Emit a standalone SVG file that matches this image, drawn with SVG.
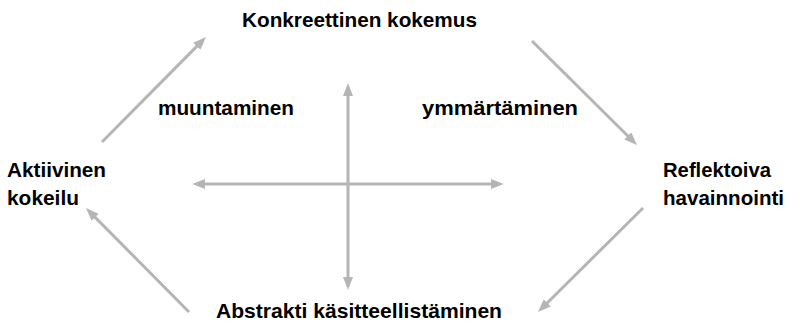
<svg xmlns="http://www.w3.org/2000/svg" width="790" height="328" viewBox="0 0 790 328">
  <style>
    .lbl { font-family: "Liberation Sans", Arial, sans-serif; font-weight: bold; font-size: 21px; fill: #000; }
    .arr { stroke: #b5b5b5; stroke-width: 3; fill: none; marker-end: url(#ah); }
    .dbl { marker-start: url(#ah); }
  </style>
  <defs>
    <marker id="ah" markerUnits="userSpaceOnUse" markerWidth="13" markerHeight="10" refX="3" refY="5" orient="auto-start-reverse">
      <path d="M0,0 L13,5 L0,10 z" fill="#b5b5b5"/>
    </marker>
  </defs>
  <g id="connectors">
    <line class="arr" x1="102" y1="142" x2="198.96" y2="44.1"/>
    <line class="arr" x1="532" y1="41" x2="629.9" y2="138"/>
    <line class="arr" x1="643" y1="208" x2="545.1" y2="305"/>
    <line class="arr" x1="189" y1="312" x2="93" y2="215.1"/>
    <line class="arr dbl" x1="348" y1="93" x2="348" y2="280"/>
    <line class="arr dbl" x1="202" y1="184" x2="494" y2="184"/>
  </g>
  <g id="konkreettinen">
    <text class="lbl" x="242" y="27" textLength="235" lengthAdjust="spacingAndGlyphs">Konkreettinen kokemus</text>
  </g>
  <g id="reflektoiva">
    <text class="lbl" x="663" y="177" textLength="108" lengthAdjust="spacingAndGlyphs">Reflektoiva</text>
    <text class="lbl" x="663" y="205" textLength="121" lengthAdjust="spacingAndGlyphs">havainnointi</text>
  </g>
  <g id="abstrakti">
    <text class="lbl" x="216" y="318" textLength="286" lengthAdjust="spacingAndGlyphs">Abstrakti käsitteellistäminen</text>
  </g>
  <g id="aktiivinen">
    <text class="lbl" x="7" y="177" textLength="99" lengthAdjust="spacingAndGlyphs">Aktiivinen</text>
    <text class="lbl" x="7" y="205" textLength="72" lengthAdjust="spacingAndGlyphs">kokeilu</text>
  </g>
  <g id="muuntaminen">
    <text class="lbl" x="158" y="115" textLength="136" lengthAdjust="spacingAndGlyphs">muuntaminen</text>
  </g>
  <g id="ymmartaminen">
    <text class="lbl" x="422" y="115" textLength="156" lengthAdjust="spacingAndGlyphs">ymmärtäminen</text>
  </g>
</svg>
